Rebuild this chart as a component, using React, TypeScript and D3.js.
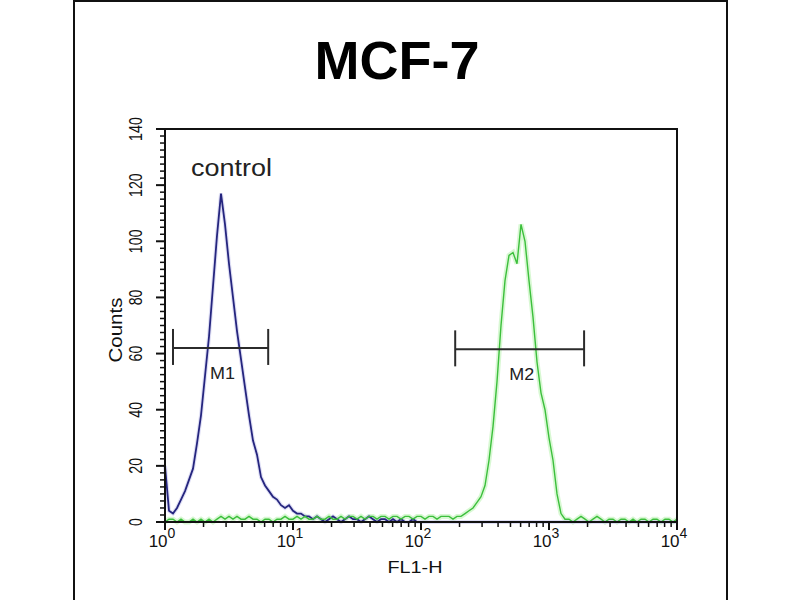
import * as d3 from 'd3';

// Flow cytometry histogram, 32 channels per decade over 4 decades (FL1-H)
const TITLE = 'MCF-7';
const CHANNELS_PER_DECADE = 32;

// control (blue) counts per channel
const controlCounts = [
  20, 4, 3, 5, 8, 11, 15, 19, 28, 38,
  52, 66, 84, 102, 117, 106, 92, 80, 68, 58,
  48, 38, 29, 24, 16, 13, 11, 9, 8, 6,
  5, 6, 4, 3, 3, 2, 2, 1, 2, 1,
  0, 1, 2, 1, 0, 1, 2, 1, 1, 0,
  1, 2, 1, 0, 1, 1, 0, 1, 0, 1,
  0, 0, 1, 0, 0, 0, 0, 0, 0, 0,
  0, 0, 0, 0, 0, 0, 0, 0, 0, 0,
  0, 0, 0, 0, 0, 0, 0, 0, 0, 0,
  0, 0, 0, 0, 0, 0, 0, 0, 0, 0,
  0, 0, 0, 0, 0, 0, 0, 0, 0, 0,
  0, 0, 0, 0, 0, 0, 0, 0, 0, 0,
  0, 0, 0, 0, 0, 0, 0, 0, 0,
];

// antibody-stained sample (green) counts per channel
const sampleCounts = [
  0, 1, 1, 0, 1, 0, 0, 1, 0, 1,
  0, 1, 0, 1, 2, 1, 2, 1, 2, 1,
  1, 2, 1, 1, 0, 1, 1, 0, 1, 1,
  2, 1, 1, 2, 1, 2, 1, 1, 2, 1,
  1, 2, 1, 1, 2, 1, 2, 2, 1, 2,
  1, 2, 2, 1, 2, 2, 1, 2, 2, 1,
  2, 2, 1, 2, 2, 1, 2, 2, 1, 2,
  2, 2, 1, 2, 2, 3, 4, 5, 7, 9,
  13, 22, 34, 50, 70, 86, 95, 96, 92, 106,
  100, 86, 73, 57, 46, 40, 30, 22, 10, 3,
  1, 1, 0, 1, 2, 1, 0, 1, 2, 1,
  0, 1, 1, 0, 1, 1, 0, 1, 0, 1,
  1, 0, 1, 1, 0, 1, 1, 0, 1,
];

// marker gates
const gateNames = ['M1', 'M2'];
const gateLow = [1.155, 185];
const gateHigh = [6.4, 1880];
const gateLevel = [62, 61.5];

const yMajorTicks = [0, 20, 40, 60, 80, 100, 120, 140];
const xDecades = [0, 1, 2, 3, 4];

const W = 800;
const H = 600;
const plot = { left: 165, right: 677, top: 129, bottom: 522 };

const FONT = "'Liberation Sans', Arial, Helvetica, sans-serif";

export default function App() {
  const x = d3.scaleLog().domain([1, 1e4]).range([plot.left, plot.right]);
  const y = d3.scaleLinear().domain([0, 140]).range([plot.bottom, plot.top]);

  const channelValue = (i: number) => Math.pow(10, i / CHANNELS_PER_DECADE);

  const line = d3.line<number>()
    .x((_, i) => x(channelValue(i)))
    .y(d => y(d))
    .curve(d3.curveLinear);

  const xMinor = x.ticks().filter(v => !xDecades.some(p => Math.abs(Math.log10(v) - p) < 1e-9));
  const yMinor = d3.range(0, 140.01, 2.5).filter(v => v % 20 !== 0);

  return (
    <svg width={W} height={H} style={{ position: 'absolute', left: 0, top: 0, background: '#fff' }}
      fontFamily={FONT}>
      <rect x={0} y={0} width={W} height={H} fill="#fff" />
      {/* outer frame */}
      <rect x={74} y={1} width={653} height={620} fill="none" stroke="#111" strokeWidth={2} />

      <text x={397} y={79} textAnchor="middle" fontSize={54} fontWeight="bold" fill="#000">{TITLE}</text>

      {/* histograms */}
      <path d={line(sampleCounts) ?? ''} fill="none" stroke="#c8f5c0" strokeWidth={5} strokeOpacity={0.7} />
      <path d={line(controlCounts) ?? ''} fill="none" stroke="#c9c9ee" strokeWidth={4} strokeOpacity={0.6} />
      <path d={line(controlCounts) ?? ''} fill="none" stroke="#25257e" strokeWidth={1.8} />
      <path d={line(sampleCounts) ?? ''} fill="none" stroke="#3cbf3c" strokeWidth={1.4} />

      {/* gates */}
      {gateNames.map((name, i) => {
        const x0 = x(gateLow[i]);
        const x1 = x(gateHigh[i]);
        const gy = y(gateLevel[i]);
        return (
          <g key={name} stroke="#2b2b2b" strokeWidth={2}>
            <line x1={x0} x2={x1} y1={gy} y2={gy} />
            <line x1={x0} x2={x0} y1={gy - 19} y2={gy + 17} />
            <line x1={x1} x2={x1} y1={gy - 19} y2={gy + 17} />
            <text x={(x0 + x1) / 2 + 2} y={gy + 31} textAnchor="middle" fontSize={16}
              stroke="none" fill="#222" textLength={25} lengthAdjust="spacingAndGlyphs">{name}</text>
          </g>
        );
      })}

      <text x={191} y={176} fontSize={23} fill="#222" textLength={81} lengthAdjust="spacingAndGlyphs">control</text>

      {/* plot box */}
      <path d={`M${plot.left},${plot.bottom}V${plot.top}H${plot.right}V${plot.bottom}Z`}
        fill="none" stroke="#111" strokeWidth={2} />

      {/* y axis ticks */}
      {yMajorTicks.map(v => (
        <g key={'ym' + v}>
          <line x1={plot.left - 9} x2={plot.left} y1={y(v)} y2={y(v)} stroke="#111" strokeWidth={2} />
          <text transform={`translate(142,${y(v)}) rotate(-90) scale(0.75,1)`} textAnchor="middle"
            fontSize={19} fill="#111">{v}</text>
        </g>
      ))}
      {yMinor.map(v => (
        <line key={'yn' + v} x1={plot.left - 5} x2={plot.left} y1={y(v)} y2={y(v)} stroke="#111" strokeWidth={1.5} />
      ))}
      <text transform="translate(122,330) rotate(-90)" textAnchor="middle" fontSize={18} fill="#111"
        textLength={65} lengthAdjust="spacingAndGlyphs">Counts</text>

      {/* x axis ticks */}
      {xDecades.map(p => (
        <g key={'xm' + p}>
          <line x1={x(Math.pow(10, p))} x2={x(Math.pow(10, p))} y1={plot.bottom} y2={plot.bottom + 8}
            stroke="#111" strokeWidth={2} />
          <text x={x(Math.pow(10, p)) - 3} y={547} textAnchor="middle" fontSize={17} fill="#111">
            <tspan>10</tspan>
            <tspan dy={-9} fontSize={14}>{p}</tspan>
          </text>
        </g>
      ))}
      {xMinor.map(v => (
        <line key={'xn' + v} x1={x(v)} x2={x(v)} y1={plot.bottom} y2={plot.bottom + 5} stroke="#111" strokeWidth={1.5} />
      ))}
      <text x={415} y={573} textAnchor="middle" fontSize={17} fill="#111"
        textLength={55} lengthAdjust="spacingAndGlyphs">FL1-H</text>
    </svg>
  );
}
